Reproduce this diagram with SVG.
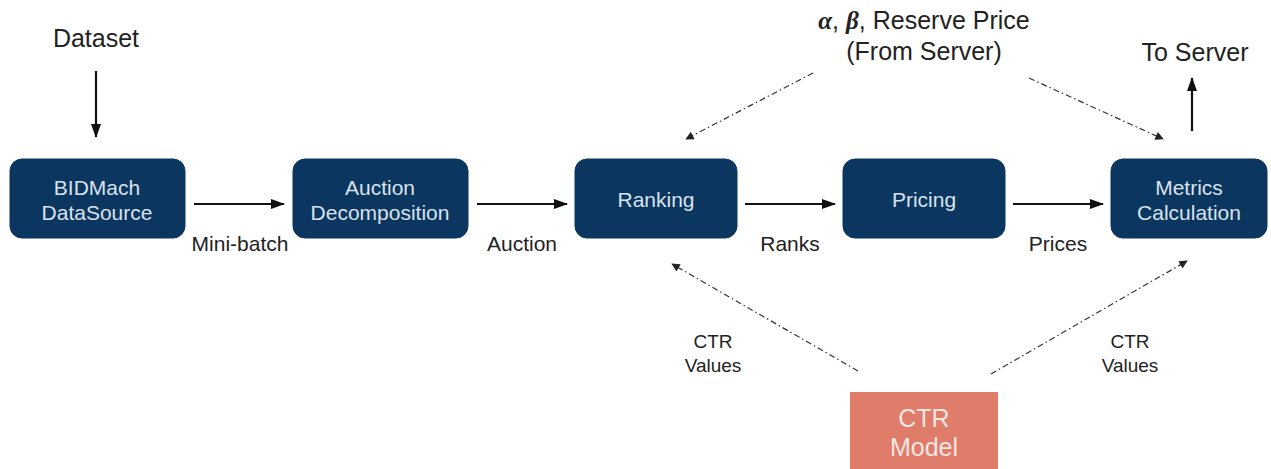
<svg xmlns="http://www.w3.org/2000/svg" width="1271" height="469" viewBox="0 0 1271 469">
<style>
.node{fill:#0b365f;stroke:#0b365f}
.nt{font-family:"Liberation Sans",Arial,sans-serif;font-size:21px;fill:#d9e2ec;text-anchor:middle}
.lbl{font-family:"Liberation Sans",Arial,sans-serif;font-size:21px;fill:#222;text-anchor:middle}
.big{font-family:"Liberation Sans",Arial,sans-serif;font-size:25px;fill:#222;text-anchor:middle}
.small{font-family:"Liberation Sans",Arial,sans-serif;font-size:19px;fill:#222;text-anchor:middle}
.solid{stroke:#111;stroke-width:2.2;fill:none}
.dd{stroke:#333;stroke-width:1.2;fill:none;stroke-dasharray:6 3 1.5 3}
</style>
<defs>
<marker id="ah" viewBox="0 0 14 10" refX="13" refY="5" markerWidth="6.5" markerHeight="5" orient="auto" markerUnits="strokeWidth"><path d="M0,0 L14,5 L0,10 z" fill="#111"/></marker>
<marker id="ahs" viewBox="0 0 10 10" refX="9" refY="5" markerWidth="8" markerHeight="7" orient="auto" markerUnits="strokeWidth"><path d="M0,0 L10,5 L0,10 z" fill="#222"/></marker>
</defs>
<g id="connectors">
<line class="solid" x1="96" y1="71" x2="96" y2="137" marker-end="url(#ah)"/>
<line class="solid" x1="194" y1="204" x2="284" y2="204" marker-end="url(#ah)"/>
<line class="solid" x1="477" y1="204" x2="567" y2="204" marker-end="url(#ah)"/>
<line class="solid" x1="745" y1="204" x2="835" y2="204" marker-end="url(#ah)"/>
<line class="solid" x1="1013" y1="204" x2="1103" y2="204" marker-end="url(#ah)"/>
<line class="solid" x1="1192" y1="131" x2="1192" y2="78" marker-end="url(#ah)"/>
<line class="dd" x1="813" y1="73" x2="686" y2="139" marker-end="url(#ahs)"/>
<line class="dd" x1="1029" y1="78" x2="1163" y2="139" marker-end="url(#ahs)"/>
<line class="dd" x1="858" y1="371" x2="672" y2="264" marker-end="url(#ahs)"/>
<line class="dd" x1="991" y1="374" x2="1187" y2="261" marker-end="url(#ahs)"/>
</g>
<g id="labels">
<text class="big" x="96" y="47">Dataset</text>
<text class="big" x="924" y="29"><tspan font-family="'Liberation Serif',serif" font-style="italic" font-weight="bold">α</tspan>, <tspan font-family="'Liberation Serif',serif" font-style="italic" font-weight="bold">β</tspan>, Reserve Price</text>
<text class="big" x="924" y="60">(From Server)</text>
<text class="big" x="1195" y="61">To Server</text>
<text class="lbl" x="240" y="251">Mini-batch</text>
<text class="lbl" x="522" y="251">Auction</text>
<text class="lbl" x="790" y="251">Ranks</text>
<text class="lbl" x="1058" y="251">Prices</text>
<text class="small" x="713" y="348">CTR</text>
<text class="small" x="713" y="372">Values</text>
<text class="small" x="1130" y="348">CTR</text>
<text class="small" x="1130" y="372">Values</text>
</g>
<g id="n-bidmach"><rect class="node" x="10" y="159" width="175" height="79" rx="12"/><text class="nt" x="97" y="195">BIDMach</text><text class="nt" x="97" y="220">DataSource</text></g>
<g id="n-auction"><rect class="node" x="293" y="159" width="175" height="79" rx="12"/><text class="nt" x="380" y="195">Auction</text><text class="nt" x="380" y="220">Decomposition</text></g>
<g id="n-ranking"><rect class="node" x="575" y="159" width="162" height="79" rx="12"/><text class="nt" x="656" y="207">Ranking</text></g>
<g id="n-pricing"><rect class="node" x="843" y="159" width="162" height="79" rx="12"/><text class="nt" x="924" y="207">Pricing</text></g>
<g id="n-metrics"><rect class="node" x="1111" y="159" width="156" height="79" rx="12"/><text class="nt" x="1189" y="195">Metrics</text><text class="nt" x="1189" y="220">Calculation</text></g>
<g id="n-ctr"><rect x="850" y="392" width="148" height="80" fill="#df7c6a"/><text class="nt" x="924" y="427" style="font-size:25px;fill:#f6e6e2">CTR</text><text class="nt" x="924" y="456" style="font-size:25px;fill:#f6e6e2">Model</text></g>
</svg>
